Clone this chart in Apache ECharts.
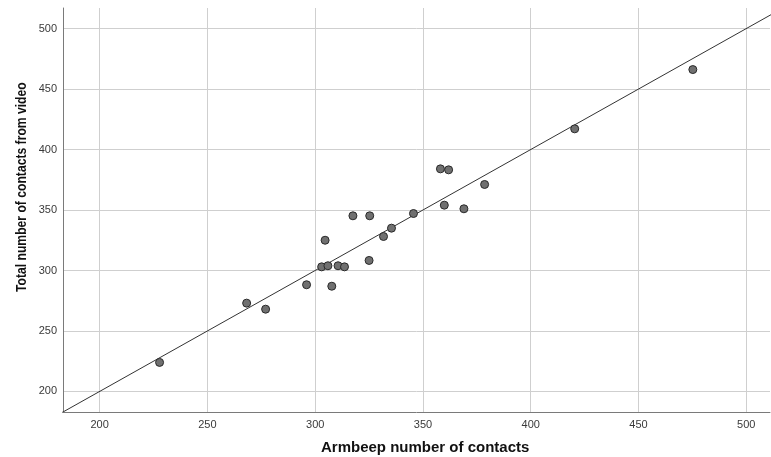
<!DOCTYPE html>
<html>
<head>
<meta charset="utf-8">
<script src="https://cdn.jsdelivr.net/npm/echarts@6/dist/echarts.min.js"></script>
<style>html,body{margin:0;padding:0;background:#fff}#c{width:771px;height:457px}</style>
</head>
<body>
<div id="c"></div>
<script>
var armbeep = [358.1, 361.9, 378.6, 359.9, 369.0, 345.6, 317.5, 325.3, 335.4, 331.7, 304.6, 303.0, 305.9, 310.6, 313.6, 325.0, 296.0, 307.7, 268.2, 277.0, 420.4, 475.2, 227.8];
var video   = [384.0, 383.2, 371.1, 354.0, 351.0, 347.1, 345.2, 345.2, 335.0, 328.1, 325.0, 303.0, 303.9, 303.9, 303.0, 308.3, 288.2, 287.0, 273.0, 268.0, 417.1, 466.1, 224.0];
var xRange = [183, 511];
var yRange = [183, 517];
var identityLine = [[150, 150], [550, 550]];
var xTitle = 'Armbeep number of contacts';
var yTitle = 'Total number of contacts from video';

var pts = armbeep.map(function (v, i) { return [v, video[i]]; });
var chart = echarts.init(document.getElementById('c'), null, {renderer: 'canvas'});
var axisCommon = {
  type: 'value',
  splitNumber: 6,
  axisLine: {show: true, onZero: false, lineStyle: {color: '#7a7a7a', width: 1}},
  axisTick: {show: false},
  splitLine: {show: true, showMinLine: false, showMaxLine: false, lineStyle: {color: '#cfcfcf', width: 1}},
  axisLabel: {color: '#3a3a3a', fontFamily: 'Liberation Sans, Arial', fontSize: 11, showMinLabel: false, showMaxLabel: false}
};
chart.setOption({
  animation: false,
  backgroundColor: '#fff',
  grid: {left: 63, right: 1, top: 8, bottom: 45, containLabel: false},
  xAxis: Object.assign({}, axisCommon, {min: xRange[0], max: xRange[1],
    axisLabel: Object.assign({}, axisCommon.axisLabel, {margin: 7})}),
  yAxis: Object.assign({}, axisCommon, {min: yRange[0], max: yRange[1],
    axisLabel: Object.assign({}, axisCommon.axisLabel, {margin: 6})}),
  graphic: [
    {type: 'text', left: 321, top: 440, style: {text: xTitle, font: 'bold 15px "Liberation Sans", Arial', fill: '#111'}},
    {type: 'text', x: 14, y: 292, rotation: Math.PI / 2, scaleX: 0.81, style: {text: yTitle, font: 'bold 15px "Liberation Sans", Arial', fill: '#111'}}
  ],
  series: [
    {type: 'line', data: identityLine, symbol: 'none', clip: true, silent: true,
     lineStyle: {color: '#333', width: 1}, z: 2},
    {type: 'scatter', data: pts, symbol: 'circle', symbolSize: 8, clip: true,
     itemStyle: {color: '#707070', borderColor: '#2a2a2a', borderWidth: 1, opacity: 1}, z: 3}
  ]
});
</script>
</body>
</html>
